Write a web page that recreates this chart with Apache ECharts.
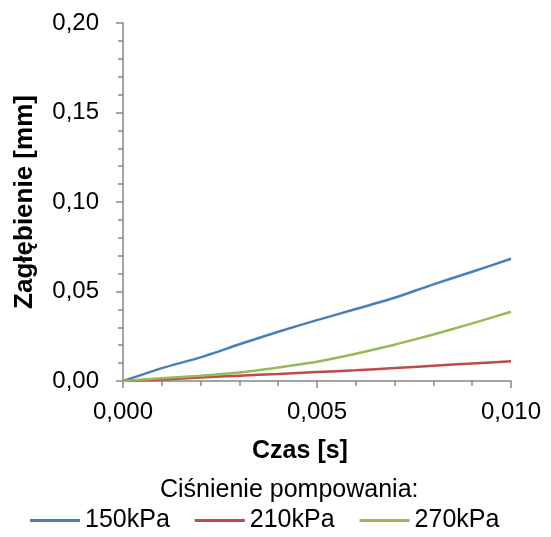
<!DOCTYPE html>
<html>
<head>
<meta charset="utf-8">
<script src="https://cdn.jsdelivr.net/npm/echarts@6/dist/echarts.min.js"></script>
<style>
  html, body { margin: 0; padding: 0; background: #fff; }
  #chart { width: 551px; height: 537px; }
</style>
</head>
<body>
<div id="chart"></div>
<script>
// time [s]
const czas = [0, 0.001, 0.002, 0.003, 0.004, 0.005, 0.006, 0.007, 0.008, 0.009, 0.010];
// deflection [mm] per pump pressure
const kpa150 = [0, 0.0072, 0.0132, 0.0205, 0.0275, 0.0340, 0.0402, 0.0465, 0.0540, 0.0610, 0.0683];
const kpa210 = [0, 0.0008, 0.0020, 0.0030, 0.0039, 0.0050, 0.0060, 0.0072, 0.0085, 0.0098, 0.0110];
const kpa270 = [0, 0.0015, 0.0030, 0.0048, 0.0076, 0.0108, 0.0152, 0.0203, 0.0260, 0.0322, 0.0387];
const seriesNames = ['150kPa', '210kPa', '270kPa'];
const colors = ['#4a7ebb', '#be4b48', '#98b954'];

const font = 'Liberation Sans, Arial, sans-serif';
const pair = (ys) => czas.map((x, i) => [x, ys[i]]);

const chart = echarts.init(document.getElementById('chart'), null, { renderer: 'canvas' });

const axisCommon = {
    axisLine: { show: true, lineStyle: { color: '#868686', width: 1.5 } },
    axisTick: { show: true, inside: false, length: 7, lineStyle: { color: '#868686', width: 1.5 } },
    minorTick: { show: true, splitNumber: 5, length: 5, lineStyle: { color: '#868686', width: 1.5 } },
    splitLine: { show: false },
    nameLocation: 'middle'
};

const option = {
    animation: false,
    color: colors,
    title: {
        text: 'Ciśnienie pompowania:',
        left: 160,
        top: 478,
        padding: 0,
        textStyle: { fontFamily: font, fontSize: 25, fontWeight: 'normal', color: '#000' }
    },
    legend: {
        data: seriesNames,
        left: 30,
        top: 508,
        padding: 0,
        icon: 'rect',
        itemWidth: 50,
        itemHeight: 3,
        itemGap: 25,
        textStyle: { fontFamily: font, fontSize: 25, color: '#000' }
    },
    grid: {
        left: 123,
        right: 40,
        top: 23,
        bottom: 156,
        outerBoundsMode: 'none'
    },
    xAxis: Object.assign({}, axisCommon, {
        type: 'value',
        min: 0,
        max: 0.01,
        interval: 0.005,
        name: 'Czas [s]',
        nameGap: 58,
        nameTextStyle: { fontFamily: font, fontSize: 25, fontWeight: 'bold', color: '#000', padding: [0, 34, 0, 0] },
        axisLabel: {
            margin: 19,
            fontFamily: font,
            fontSize: 24,
            color: '#000',
            formatter: (v) => v.toFixed(3).replace('.', ',')
        }
    }),
    yAxis: Object.assign({}, axisCommon, {
        type: 'value',
        min: 0,
        max: 0.2,
        interval: 0.05,
        name: 'Zagłębienie [mm]',
        nameGap: 85,
        nameRotate: 90,
        nameTextStyle: { fontFamily: font, fontSize: 26, fontWeight: 'bold', color: '#000' },
        axisLabel: {
            margin: 24,
            fontFamily: font,
            fontSize: 24,
            color: '#000',
            formatter: (v) => v.toFixed(2).replace('.', ',')
        }
    }),
    series: [
        { name: seriesNames[0], type: 'line', data: pair(kpa150), symbol: 'none', smooth: 0.2, lineStyle: { width: 2.5 } },
        { name: seriesNames[1], type: 'line', data: pair(kpa210), symbol: 'none', smooth: 0.2, lineStyle: { width: 2.5 } },
        { name: seriesNames[2], type: 'line', data: pair(kpa270), symbol: 'none', smooth: 0.2, lineStyle: { width: 2.5 } }
    ]
};

chart.setOption(option);
</script>
</body>
</html>
